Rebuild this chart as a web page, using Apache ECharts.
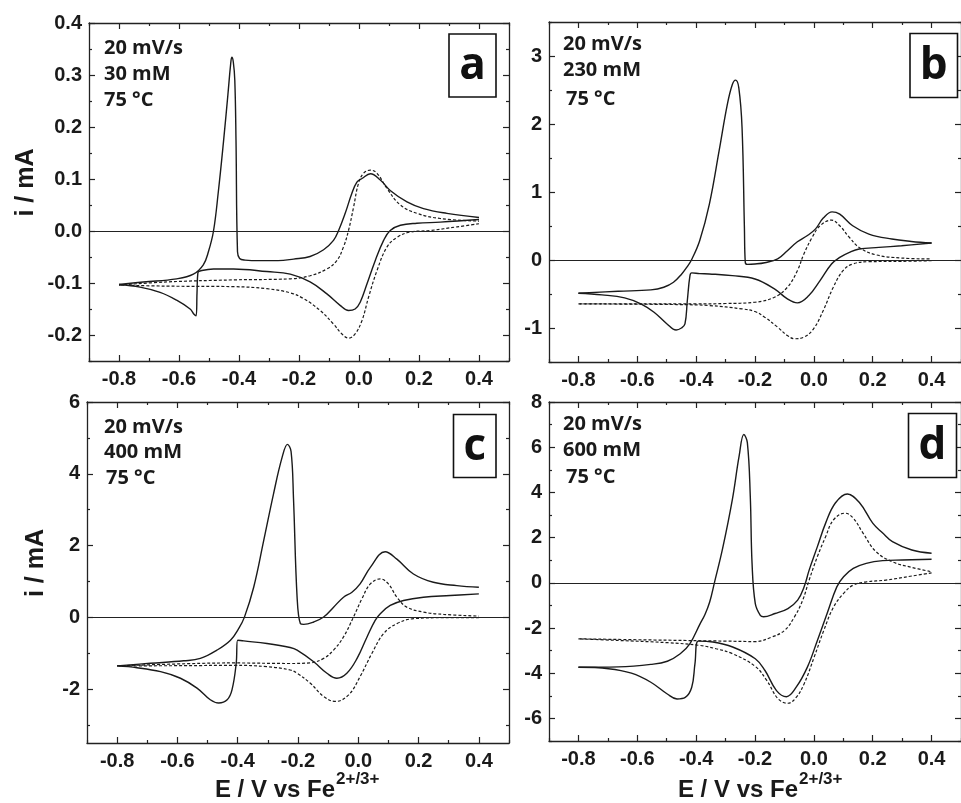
<!DOCTYPE html>
<html><head><meta charset="utf-8">
<script src="https://cdn.jsdelivr.net/npm/echarts@6/dist/echarts.min.js"></script>
<style>html,body{margin:0;padding:0;background:#fff}#c{width:961px;height:803px}</style>
</head><body><div id="c"></div>
<script>
// ---------------- data ----------------
const xMajor = [-0.8, -0.6, -0.4, -0.2, 0.0, 0.2, 0.4];
const xMinor = [-0.9, -0.7, -0.5, -0.3, -0.1, 0.1, 0.3, 0.5];
const aYMajor = [-0.2, -0.1, 0.0, 0.1, 0.2, 0.3, 0.4];
const aYMinor = [-0.25, -0.15, -0.05, 0.05, 0.15, 0.25, 0.35];
const bYMajor = [-1, 0, 1, 2, 3];
const bYMinor = [-1.5, -0.5, 0.5, 1.5, 2.5, 3.5];
const cYMajor = [-2, 0, 2, 4, 6];
const cYMinor = [-3, -1, 1, 3, 5];
const dYMajor = [-6, -4, -2, 0, 2, 4, 6, 8];
const dYMinor = [-7, -5, -3, -1, 1, 3, 5, 7];

const panelLetters = ['a', 'b', 'c', 'd'];
const panelNotes = [
  ['20 mV/s', '30 mM', '75 °C'],
  ['20 mV/s', '230 mM', '75 °C'],
  ['20 mV/s', '400 mM', '75 °C'],
  ['20 mV/s', '600 mM', '75 °C']
];
const yTitle = 'i / mA';
const xTitleMain = 'E / V vs Fe';
const xTitleSup = '2+/3+';

// [E (V), i (mA)] in scan order: forward sweep to 0.4 V, then reverse sweep
const aSolid = [[-0.800,-0.103],[-0.719,-0.098],[-0.608,-0.092],[-0.552,-0.083],[-0.519,-0.065],[-0.502,-0.040],[-0.485,0.000],[-0.469,0.075],[-0.452,0.170],[-0.437,0.262],[-0.428,0.320],[-0.424,0.334],[-0.419,0.325],[-0.414,0.290],[-0.410,0.175],[-0.405,-0.040],[-0.398,-0.053],[-0.380,-0.056],[-0.330,-0.057],[-0.270,-0.057],[-0.218,-0.054],[-0.163,-0.049],[-0.118,-0.036],[-0.085,-0.018],[-0.068,0.001],[-0.046,0.034],[-0.024,0.072],[-0.007,0.094],[0.010,0.101],[0.038,0.110],[0.071,0.098],[0.104,0.078],[0.160,0.056],[0.215,0.043],[0.293,0.034],[0.400,0.026],
  [0.400,0.022],[0.271,0.017],[0.193,0.015],[0.138,0.011],[0.104,0.001],[0.082,-0.018],[0.054,-0.057],[0.027,-0.101],[0.004,-0.137],[-0.013,-0.150],[-0.035,-0.153],[-0.063,-0.143],[-0.107,-0.121],[-0.163,-0.098],[-0.229,-0.083],[-0.307,-0.078],[-0.418,-0.073],[-0.485,-0.073],[-0.524,-0.076],[-0.537,-0.080],[-0.540,-0.120],[-0.543,-0.163],[-0.550,-0.160],[-0.563,-0.150],[-0.608,-0.133],[-0.663,-0.118],[-0.730,-0.108],[-0.800,-0.103]];
const aDashed = [[-0.800,-0.104],[-0.641,-0.098],[-0.418,-0.094],[-0.229,-0.092],[-0.163,-0.086],[-0.107,-0.073],[-0.074,-0.057],[-0.052,-0.031],[-0.035,0.001],[-0.018,0.046],[-0.002,0.091],[0.015,0.111],[0.038,0.117],[0.060,0.111],[0.093,0.082],[0.138,0.050],[0.193,0.034],[0.271,0.024],[0.400,0.019],
  [0.400,0.014],[0.327,0.008],[0.238,0.001],[0.171,-0.002],[0.127,-0.012],[0.093,-0.031],[0.060,-0.076],[0.032,-0.127],[0.010,-0.172],[-0.013,-0.198],[-0.035,-0.206],[-0.057,-0.198],[-0.085,-0.179],[-0.129,-0.153],[-0.185,-0.130],[-0.229,-0.119],[-0.307,-0.111],[-0.418,-0.107],[-0.641,-0.106],[-0.800,-0.104]];

const bSolid = [[-0.800,-0.489],[-0.665,-0.460],[-0.554,-0.440],[-0.510,-0.401],[-0.477,-0.328],[-0.449,-0.205],[-0.432,-0.108],[-0.416,0.000],[-0.388,0.283],[-0.355,0.821],[-0.322,1.603],[-0.294,2.287],[-0.277,2.581],[-0.266,2.645],[-0.255,2.531],[-0.244,1.944],[-0.236,0.478],[-0.233,-0.035],[-0.226,-0.065],[-0.200,-0.059],[-0.167,-0.040],[-0.123,0.015],[-0.090,0.136],[-0.056,0.268],[-0.023,0.356],[0.005,0.454],[0.032,0.616],[0.062,0.708],[0.088,0.674],[0.132,0.503],[0.187,0.381],[0.265,0.308],[0.331,0.273],[0.400,0.249],
  [0.400,0.249],[0.298,0.210],[0.221,0.185],[0.154,0.161],[0.121,0.112],[0.088,0.038],[0.060,-0.059],[0.021,-0.304],[-0.017,-0.523],[-0.056,-0.631],[-0.090,-0.572],[-0.134,-0.425],[-0.200,-0.279],[-0.277,-0.230],[-0.355,-0.205],[-0.388,-0.200],[-0.415,-0.190],[-0.421,-0.230],[-0.430,-0.600],[-0.438,-0.940],[-0.450,-1.000],[-0.468,-1.030],[-0.499,-0.940],[-0.543,-0.768],[-0.588,-0.645],[-0.643,-0.557],[-0.720,-0.513],[-0.800,-0.489]];
const bDashed = [[-0.800,-0.645],[-0.600,-0.645],[-0.400,-0.645],[-0.300,-0.640],[-0.200,-0.621],[-0.134,-0.548],[-0.090,-0.401],[-0.056,-0.157],[-0.034,0.088],[-0.006,0.331],[0.021,0.503],[0.060,0.587],[0.088,0.503],[0.121,0.331],[0.154,0.185],[0.209,0.078],[0.298,0.029],[0.400,0.015],
  [0.400,-0.010],[0.298,-0.020],[0.187,-0.025],[0.132,-0.059],[0.099,-0.157],[0.066,-0.401],[0.032,-0.743],[-0.001,-1.012],[-0.034,-1.135],[-0.065,-1.158],[-0.090,-1.110],[-0.123,-0.988],[-0.167,-0.841],[-0.200,-0.758],[-0.244,-0.719],[-0.355,-0.670],[-0.466,-0.655],[-0.800,-0.645]];

const cSolid = [[-0.800,-1.350],[-0.690,-1.280],[-0.579,-1.210],[-0.524,-1.143],[-0.469,-0.913],[-0.424,-0.636],[-0.397,-0.313],[-0.378,0.000],[-0.347,0.839],[-0.314,2.129],[-0.281,3.450],[-0.253,4.450],[-0.235,4.820],[-0.223,4.620],[-0.215,3.328],[-0.203,0.562],[-0.192,-0.175],[-0.181,-0.194],[-0.148,-0.129],[-0.115,0.009],[-0.082,0.285],[-0.049,0.562],[-0.021,0.700],[0.006,0.932],[0.040,1.391],[0.089,1.826],[0.128,1.623],[0.183,1.208],[0.249,0.977],[0.327,0.885],[0.400,0.839],
  [0.400,0.655],[0.305,0.609],[0.216,0.562],[0.150,0.470],[0.106,0.332],[0.073,0.102],[0.056,-0.083],[0.029,-0.545],[-0.004,-1.143],[-0.038,-1.557],[-0.071,-1.696],[-0.104,-1.557],[-0.148,-1.236],[-0.203,-0.913],[-0.226,-0.840],[-0.303,-0.728],[-0.380,-0.656],[-0.400,-0.636],[-0.405,-1.281],[-0.419,-2.019],[-0.435,-2.296],[-0.463,-2.387],[-0.491,-2.296],[-0.535,-1.972],[-0.590,-1.696],[-0.656,-1.513],[-0.734,-1.402],[-0.800,-1.350]];
const cDashed = [[-0.800,-1.350],[-0.524,-1.281],[-0.413,-1.270],[-0.226,-1.285],[-0.159,-1.265],[-0.115,-1.143],[-0.082,-0.913],[-0.049,-0.545],[-0.016,0.009],[0.012,0.517],[0.040,0.932],[0.073,1.071],[0.100,0.932],[0.128,0.562],[0.161,0.285],[0.216,0.147],[0.283,0.083],[0.400,0.036],
  [0.400,-0.009],[0.283,-0.010],[0.183,-0.037],[0.128,-0.175],[0.084,-0.452],[0.045,-1.005],[0.006,-1.651],[-0.032,-2.158],[-0.076,-2.342],[-0.115,-2.204],[-0.159,-1.835],[-0.203,-1.557],[-0.226,-1.466],[-0.303,-1.373],[-0.413,-1.335],[-0.579,-1.346],[-0.800,-1.350]];

const dSolid = [[-0.800,-3.740],[-0.665,-3.720],[-0.554,-3.610],[-0.498,-3.470],[-0.454,-3.140],[-0.421,-2.690],[-0.388,-1.850],[-0.370,-1.400],[-0.354,-0.850],[-0.338,0.000],[-0.310,1.520],[-0.277,3.680],[-0.254,5.600],[-0.238,6.560],[-0.226,6.200],[-0.216,3.820],[-0.210,0.860],[-0.199,-0.920],[-0.182,-1.440],[-0.171,-1.500],[-0.132,-1.360],[-0.088,-1.140],[-0.055,-0.770],[-0.033,-0.180],[-0.016,0.560],[0.012,1.600],[0.040,2.640],[0.073,3.530],[0.114,3.930],[0.156,3.530],[0.200,2.640],[0.234,2.200],[0.267,1.820],[0.333,1.450],[0.400,1.310],
  [0.400,1.040],[0.300,1.010],[0.234,0.980],[0.178,0.860],[0.134,0.640],[0.101,0.270],[0.078,-0.180],[0.045,-1.360],[0.012,-2.550],[-0.022,-3.730],[-0.060,-4.620],[-0.093,-5.040],[-0.127,-4.770],[-0.166,-3.880],[-0.199,-3.360],[-0.276,-2.840],[-0.343,-2.620],[-0.393,-2.580],[-0.404,-3.580],[-0.415,-4.620],[-0.437,-5.070],[-0.465,-5.140],[-0.498,-4.920],[-0.554,-4.400],[-0.620,-4.000],[-0.698,-3.800],[-0.800,-3.740]];
const dDashed = [[-0.800,-2.480],[-0.498,-2.540],[-0.300,-2.580],[-0.199,-2.600],[-0.143,-2.400],[-0.099,-2.100],[-0.066,-1.510],[-0.038,-0.770],[-0.016,0.120],[0.012,1.160],[0.040,2.040],[0.067,2.790],[0.106,3.080],[0.134,2.860],[0.167,2.200],[0.211,1.380],[0.267,0.930],[0.333,0.680],[0.400,0.490],
  [0.400,0.440],[0.333,0.300],[0.245,0.120],[0.178,0.040],[0.134,-0.100],[0.101,-0.470],[0.067,-1.070],[0.034,-2.100],[0.001,-3.290],[-0.033,-4.470],[-0.060,-5.070],[-0.088,-5.330],[-0.121,-5.140],[-0.160,-4.320],[-0.199,-3.700],[-0.276,-3.140],[-0.332,-2.920],[-0.388,-2.770],[-0.498,-2.650],[-0.665,-2.550],[-0.800,-2.480]];

// ---------------- layout / style ----------------
const FRAME = '#222';
const INK = '#1a1a1a';
const tickFont = {fontFamily: '"Liberation Sans", Arial, sans-serif', fontWeight: 'bold', fontSize: 20, color: INK};

const panels = [
  {grid: {left: 89, top: 23, width: 420, height: 338}, yMin: -0.25, yMax: 0.4, yMajor: aYMajor, yMinor: aYMinor, fmt: v => v.toFixed(1), solid: aSolid, dashed: aDashed},
  {grid: {left: 549, top: 22, width: 421, height: 340}, yMin: -1.5, yMax: 3.5, yMajor: bYMajor, yMinor: bYMinor, fmt: v => String(v), solid: bSolid, dashed: bDashed},
  {grid: {left: 87, top: 402, width: 422, height: 341}, yMin: -3.5, yMax: 6, yMajor: cYMajor, yMinor: cYMinor, fmt: v => String(v), solid: cSolid, dashed: cDashed},
  {grid: {left: 549, top: 402, width: 421, height: 339}, yMin: -7, yMax: 8, yMajor: dYMajor, yMinor: dYMinor, fmt: v => String(v), solid: dSolid, dashed: dDashed}
];

// split a sweep at its turning point (two consecutive points at the vertex potential)
function splitSweep(data) {
  for (let i = 0; i < data.length - 1; i++) {
    if (data[i][0] === 0.4 && data[i + 1][0] === 0.4) return [data.slice(0, i + 1), data.slice(i + 1)];
  }
  return [data];
}

const xAxes = [], yAxes = [], series = [];
function frameAxes(list, gi, dim, min, max, major, minor, fmt) {
  const pos = dim === 'x' ? ['bottom', 'top'] : ['left', 'right'];
  const mainIndex = list.length;
  pos.forEach((p, k) => {
    list.push({type: 'value', gridIndex: gi, position: p, min: min, max: max, silent: true,
      axisLine: {show: true, onZero: false, lineStyle: {color: FRAME, width: 1.3}},
      axisTick: {show: true, inside: true, length: 6, customValues: major, lineStyle: {color: FRAME, width: 1.2}},
      axisLabel: k === 0 ? Object.assign({show: true, customValues: major, formatter: fmt, margin: dim === 'x' ? 8 : 7}, tickFont) : {show: false},
      splitLine: {show: false}});
    list.push({type: 'value', gridIndex: gi, position: p, min: min, max: max, silent: true,
      axisLine: {show: false, onZero: false},
      axisTick: {show: true, inside: true, length: 3, customValues: minor, lineStyle: {color: FRAME, width: 1.2}},
      axisLabel: {show: false}, splitLine: {show: false}});
  });
  return mainIndex;
}

panels.forEach((p, gi) => {
  const xi = frameAxes(xAxes, gi, 'x', -0.9, 0.5, xMajor, xMinor, v => v.toFixed(1));
  const yi = frameAxes(yAxes, gi, 'y', p.yMin, p.yMax, p.yMajor, p.yMinor, p.fmt);
  splitSweep(p.dashed).forEach(seg => {
    series.push({type: 'line', xAxisIndex: xi, yAxisIndex: yi, data: seg, symbol: 'none', smooth: 0.4,
      lineStyle: {color: INK, width: 1.2, type: [3, 2]}, z: 3, silent: true});
  });
  splitSweep(p.solid).forEach((seg, k) => {
    const s = {type: 'line', xAxisIndex: xi, yAxisIndex: yi, data: seg, symbol: 'none', smooth: 0.4,
      lineStyle: {color: INK, width: 1.4}, z: 4, silent: true};
    if (k === 0) {
      s.markLine = {silent: true, symbol: ['none', 'none'], label: {show: false}, animation: false,
        lineStyle: {color: FRAME, width: 1.2, type: 'solid'}, data: [{yAxis: 0}]};
    }
    series.push(s);
  });
});

// annotation geometry
const boxes = [
  {x: 449, y: 34, w: 47, h: 63},
  {x: 910, y: 33.5, w: 47.5, h: 64},
  {x: 453.5, y: 414.5, w: 42.5, h: 63},
  {x: 908.5, y: 413.5, w: 48, h: 64}
];
const notePos = [
  {x: 104, ys: [48.5, 74.5, 100.5], ind: [0, 0, 0]},
  {x: 563, ys: [44.5, 70.5, 99], ind: [0, 0, 3]},
  {x: 104, ys: [427, 452.5, 478.5], ind: [0, 0, 2]},
  {x: 563, ys: [424.5, 450.5, 477], ind: [0, 0, 3]}
];
const noteFont = 'bold 20px "Open Sans", sans-serif';
const graphics = [];
boxes.forEach((b, i) => {
  graphics.push({type: 'rect', shape: {x: b.x, y: b.y, width: b.w, height: b.h}, z: 10,
    style: {fill: '#fff', stroke: '#111', lineWidth: 1.6}});
  graphics.push({type: 'text', x: b.x + b.w / 2, y: b.y + b.h / 2 + 1, z: 11,
    style: {text: panelLetters[i], font: 'bold 44px "Open Sans", sans-serif', fill: '#111',
      textAlign: 'center', textVerticalAlign: 'middle', align: 'center', verticalAlign: 'middle'}});
});
notePos.forEach((n, i) => {
  panelNotes[i].forEach((t, k) => {
    graphics.push({type: 'text', x: n.x + n.ind[k], y: n.ys[k], z: 11,
      style: {text: t, font: noteFont, fill: INK, textAlign: 'left', textVerticalAlign: 'middle', align: 'left', verticalAlign: 'middle'}});
  });
});
const titleFont = 'bold 25px "Liberation Sans", Arial, sans-serif';
[{x: 26, y: 182.5}, {x: 36.5, y: 563}].forEach(p => {
  graphics.push({type: 'text', x: p.x, y: p.y, rotation: Math.PI / 2, z: 11,
    style: {text: yTitle, font: titleFont, fill: INK, textAlign: 'center', textVerticalAlign: 'middle', align: 'center', verticalAlign: 'middle'}});
});
[{x: 335, y: 790}, {x: 798, y: 790}].forEach(p => {
  graphics.push({type: 'text', x: p.x, y: p.y, z: 11,
    style: {text: xTitleMain, font: 'bold 24px "Liberation Sans", Arial, sans-serif', fill: INK, textAlign: 'right', textVerticalAlign: 'middle', align: 'right', verticalAlign: 'middle'}});
  graphics.push({type: 'text', x: p.x + 1, y: p.y - 10.5, z: 11,
    style: {text: xTitleSup, font: 'bold 17px "Liberation Sans", Arial, sans-serif', fill: INK, textAlign: 'left', textVerticalAlign: 'middle', align: 'left', verticalAlign: 'middle'}});
});

const chart = echarts.init(document.getElementById('c'), null, {renderer: 'canvas'});
chart.setOption({
  animation: false,
  backgroundColor: '#fff',
  grid: panels.map(p => Object.assign({containLabel: false}, p.grid)),
  xAxis: xAxes,
  yAxis: yAxes,
  series: series,
  graphic: {elements: graphics}
});
</script>
</body></html>
